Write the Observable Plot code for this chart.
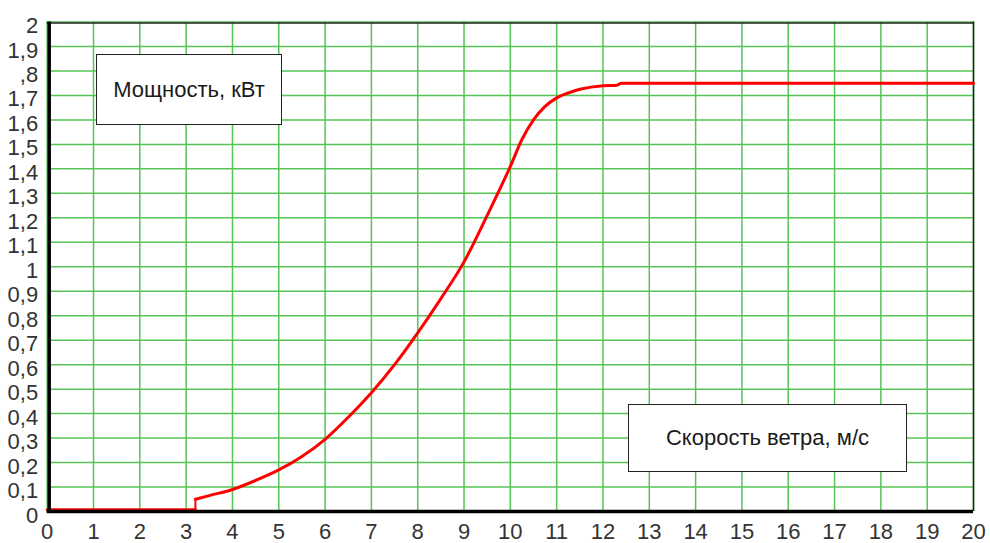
<!DOCTYPE html>
<html>
<head>
<meta charset="utf-8">
<script src="https://cdn.jsdelivr.net/npm/d3@7"></script>
<script src="https://cdn.jsdelivr.net/npm/@observablehq/plot@0.6"></script>
<style>
  html, body { margin: 0; padding: 0; background: #fff; }
  #wrap { position: relative; width: 990px; height: 543px; overflow: hidden; }
  .note {
    position: absolute; box-sizing: border-box; background: #fff;
    border: 1.5px solid #222; display: flex; align-items: center; justify-content: center;
    font-family: "Liberation Sans", Arial, sans-serif;
    font-size: 22px; color: #1a1a1a;
  }
</style>
</head>
<body>
<div id="wrap"></div>
<script>
// Wind speed (m/s) and power (kW)
// segment 0: idle part below cut-in speed; segment 1: power curve
const speed   = [0, 3.2,   3.2, 3.5, 4, 4.5, 5, 5.5, 6, 6.5, 7, 7.5, 8, 8.5, 9, 9.5, 10, 10.25, 10.5, 10.75, 11, 11.25, 11.5, 12, 12.3, 12.4, 20];
const power   = [0.007, 0.007, 0.05, 0.065, 0.09, 0.127, 0.17, 0.225, 0.295, 0.385, 0.485, 0.6, 0.73, 0.87, 1.02, 1.21, 1.41, 1.52, 1.6, 1.655, 1.69, 1.71, 1.725, 1.74, 1.742, 1.75, 1.75];
const segment = [0, 0,     1, 1, 1, 1, 1, 1, 1, 1, 1, 1, 1, 1, 1, 1, 1, 1, 1, 1, 1, 1, 1, 1, 1, 1, 1];

const xTicks = d3.range(0, 21);
const xLabels = xTicks.map(String);
const yTicks = d3.range(0, 21).map(i => i / 10);
const yLabels = ["0","0,1","0,2","0,3","0,4","0,5","0,6","0,7","0,8","0,9","1","1,1","1,2","1,3","1,4","1,5","1,6","1,7",",8","1,9","2"];

const powerTitle = "Мощность, кВт";
const speedTitle = "Скорость ветра, м/с";

const data = speed.map((s, i) => ({speed: s, power: power[i], seg: segment[i]}));
const idle = data.filter(d => d.seg === 0);
const curve = data.filter(d => d.seg === 1);
// vertical cut-in jump joins the last idle point to the first curve point
const jump = [idle[idle.length - 1], curve[0]];

const FONT = '"Liberation Sans", Arial, sans-serif';
const grid = "#55c455";
const red = "#ff0000";

const chart = Plot.plot({
  width: 990,
  height: 543,
  marginLeft: 46.7,
  marginRight: 17,
  marginTop: 21.5,
  marginBottom: 32,
  style: {fontFamily: FONT, fontSize: "22px", background: "#fff", color: "#333"},
  x: {domain: [0, 20], label: null},
  y: {domain: [0, 2], label: null},
  marks: [
    Plot.ruleX(xTicks, {stroke: grid, strokeWidth: 1.5}),
    Plot.ruleY(yTicks, {stroke: grid, strokeWidth: 1.5}),
    Plot.ruleY([2], {stroke: "#222", strokeWidth: 1.5, dy: 1}),
    Plot.ruleX([20], {stroke: "#222", strokeWidth: 1.5}),
    Plot.line(idle, {x: "speed", y: "power", stroke: red, strokeWidth: 3}),
    Plot.line(jump, {x: "speed", y: "power", stroke: red, strokeWidth: 2}),
    Plot.line(curve, {x: "speed", y: "power", stroke: red, strokeWidth: 3, curve: "monotone-x"}),
    Plot.ruleX([0], {stroke: "#000", strokeWidth: 3.5, dx: 2}),
    Plot.ruleY([0], {stroke: "#000", strokeWidth: 3.5}),
    Plot.axisX(xTicks, {tickSize: 0, tickPadding: 12, label: null, tickFormat: (d, i) => xLabels[i], fontSize: 22, fill: "#333"}),
    Plot.axisY(yTicks, {tickSize: 0, tickPadding: 9, dy: 4, label: null, tickFormat: (d, i) => yLabels[i], fontSize: 22, fill: "#333"})
  ]
});

const wrap = document.getElementById("wrap");
wrap.appendChild(chart);

function note(text, left, top, w, h) {
  const d = document.createElement("div");
  d.className = "note";
  d.textContent = text;
  Object.assign(d.style, {left: left + "px", top: top + "px", width: w + "px", height: h + "px"});
  wrap.appendChild(d);
}
note(powerTitle, 96, 54, 186, 71);
note(speedTitle, 628, 404, 279, 68);
</script>
</body>
</html>
